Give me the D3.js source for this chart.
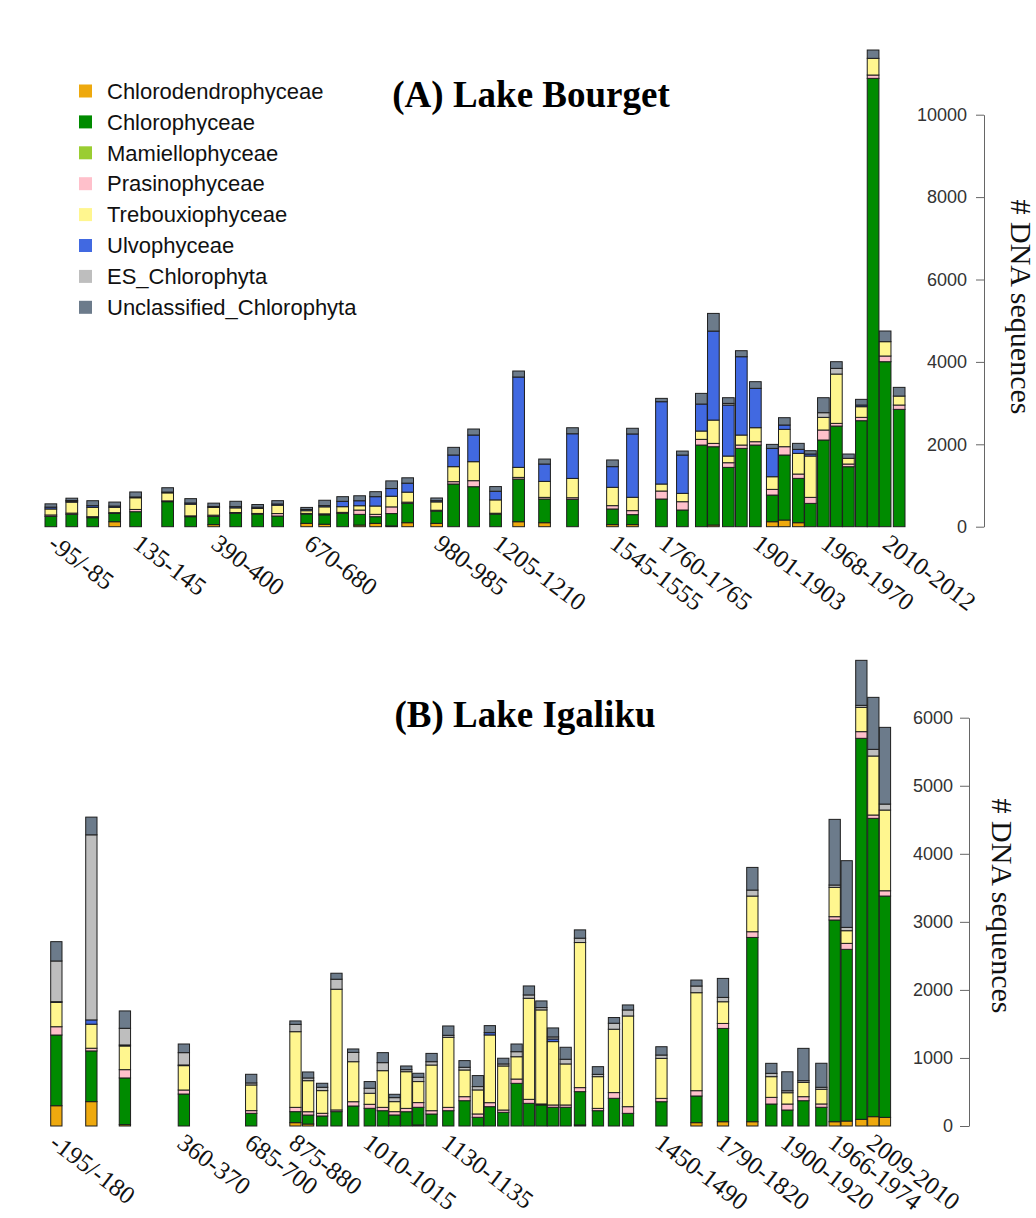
<!DOCTYPE html>
<html>
<head>
<meta charset="utf-8">
<script src="https://cdn.jsdelivr.net/npm/d3@7"></script>
<style>
    body { margin: 0; background: #ffffff; }
</style>
</head>
<body>
<svg id="chart" width="1036" height="1218"></svg>
<script>
// classes, bottom to top of each stack
var categories = ["Chlorodendrophyceae", "Chlorophyceae", "Mamiellophyceae", "Prasinophyceae",
    "Trebouxiophyceae", "Ulvophyceae", "ES_Chlorophyta", "Unclassified_Chlorophyta"];
var colors = ["#EEA90E", "#008B00", "#9ACD32", "#FFC0CB", "#FFF68F", "#4169E1", "#BEBEBE", "#6C7B8B"];

// ---- (A) Lake Bourget ----
// space before each bar, in bar widths (like R barplot "space")
var bourgetSpace = [0, 0.79, 0.79, 0.88, 0.79, 1.74, 0.97, 0.97, 0.88, 0.88, 0.71, 1.48, 0.54, 0.54, 0.45,
    0.37, 0.37, 0.37, 1.48, 0.45, 0.71, 0.88, 0.97, 1.22, 1.39, 2.42, 0.71, 1.48, 0.79, 0.62,
    0.03, 0.28, 0.11, 0.20, 0.45, 0.03, 0.20, 0.03, 0.11, 0.11, 0.03, 0.11, 0, 0.03, 0.20];
var bourgetChlorodendro = [0, 0, 0, 121, 0, 0, 0, 50, 0, 0, 0, 81, 60, 0, 40,
    81, 20, 97, 81, 0, 0, 0, 121, 97, 0, 50, 50, 0, 0, 0,
    40, 0, 0, 0, 121, 162, 97, 0, 0, 0, 0, 0, 0, 0, 0];
var bourgetChloro = [250, 300, 218, 200, 364, 607, 243, 200, 324, 307, 259, 227, 227, 323, 259,
    162, 299, 469, 299, 1036, 971, 307, 1036, 575, 663, 380, 243, 672, 405, 1982,
    1901, 1440, 1901, 1982, 647, 1578, 1076, 566, 2104, 2443, 1456, 2573, 10882, 4005, 2848];
var bourgetMamiello = [0, 0, 0, 0, 0, 0, 0, 0, 0, 0, 0, 0, 0, 0, 0,
    0, 0, 0, 0, 0, 0, 0, 0, 0, 0, 0, 0, 0, 0, 0,
    0, 0, 0, 0, 0, 0, 0, 0, 0, 0, 0, 0, 0, 0, 0];
var bourgetPrasino = [35, 30, 25, 20, 55, 20, 20, 30, 20, 15, 60, 15, 25, 25, 105,
    57, 162, 30, 20, 57, 146, 20, 40, 40, 40, 81, 97, 194, 202, 138,
    81, 113, 81, 81, 138, 202, 105, 146, 243, 65, 65, 81, 81, 138, 105];
var bourgetTrebouxio = [145, 267, 227, 130, 283, 194, 283, 186, 113, 121, 202, 65, 170, 138, 105,
    202, 259, 243, 202, 364, 461, 324, 243, 388, 469, 445, 324, 170, 202, 202,
    566, 162, 243, 340, 307, 421, 502, 1003, 307, 1197, 138, 259, 405, 348, 218];
var bourgetUlvo = [45, 25, 40, 30, 20, 20, 30, 25, 30, 30, 30, 30, 30, 130, 121,
    227, 186, 218, 30, 283, 647, 210, 2193, 421, 1084, 502, 1537, 1998, 930, 655,
    2160, 1238, 1901, 955, 688, 105, 97, 49, 0, 0, 0, 40, 0, 0, 0];
var bourgetES = [0, 15, 0, 0, 0, 0, 0, 0, 0, 0, 0, 0, 0, 0, 0,
    0, 0, 0, 0, 0, 0, 0, 0, 0, 0, 0, 0, 0, 0, 0,
    0, 40, 0, 0, 0, 0, 0, 0, 113, 138, 0, 0, 0, 0, 0];
var bourgetUnclass = [80, 55, 121, 97, 121, 105, 105, 81, 130, 65, 81, 50, 130, 113, 121,
    121, 186, 130, 65, 186, 146, 113, 146, 121, 146, 162, 138, 81, 97, 259,
    429, 138, 146, 162, 97, 178, 146, 81, 364, 162, 105, 138, 202, 259, 211];
var bourgetTickBars = [1, 5, 8, 12, 19, 22, 26, 28, 34, 39, 44];
var bourgetTickLabels = ["-95/-85", "135-145", "390-400", "670-680", "980-985", "1205-1210",
    "1545-1555", "1760-1765", "1901-1903", "1968-1970", "2010-2012"];
var bourgetYTicks = [0, 2000, 4000, 6000, 8000, 10000];

// ---- (B) Lake Igaliku ----
var igalikuSpace = [0, 2.10, 1.97, 4.22, 4.96, 2.92, 0.12, 0.24, 0.27, 0.48, 0.47, 0.15, 0.04, 0.04, 0.06,
    0.18, 0.48, 0.44, 0.18, 0.06, 0.19, 0.18, 0.09, 0.10, 0.03, 0.12, 0.27, 0.59, 0.42, 0.24,
    1.96, 2.10, 1.35, 1.60, 0.68, 0.42, 0.42, 0.59, 0.18, 0.06, 0.30, 0.06, 0.03];
var igalikuChlorodendro = [298, 358, 20, 0, 0, 49, 29, 0, 0, 0, 0, 0, 0, 0, 15,
    0, 0, 0, 0, 0, 0, 0, 0, 0, 0, 0, 15, 0, 0, 0,
    0, 49, 63, 63, 0, 0, 0, 0, 63, 73, 98, 137, 127];
var igalikuChloro = [1039, 745, 686, 470, 186, 162, 132, 147, 211, 294, 260, 225, 162, 210, 260,
    176, 225, 372, 128, 284, 201, 627, 333, 309, 275, 275, 490, 225, 407, 186,
    357, 392, 1371, 2708, 323, 235, 372, 275, 2964, 2523, 5599, 4384, 3252];
var igalikuMamiello = [0, 0, 0, 0, 0, 0, 0, 0, 0, 0, 0, 0, 0, 0, 0,
    0, 0, 0, 0, 0, 0, 0, 0, 0, 0, 0, 0, 0, 0, 0,
    0, 0, 0, 0, 0, 0, 0, 0, 0, 0, 0, 0, 0];
var igalikuPrasino = [122, 40, 122, 59, 40, 63, 49, 40, 25, 63, 59, 49, 49, 49, 69,
    49, 49, 59, 49, 59, 34, 63, 59, 15, 34, 34, 59, 34, 84, 98,
    49, 78, 73, 84, 98, 88, 59, 49, 49, 88, 98, 49, 78];
var igalikuTrebouxio = [358, 353, 348, 358, 377, 1112, 456, 333, 1774, 588, 162, 539, 147, 539, 309,
    671, 1029, 392, 353, 995, 647, 328, 1485, 1382, 931, 603, 2132, 466, 931, 1333,
    588, 1440, 319, 524, 304, 166, 210, 216, 431, 186, 357, 867, 1186];
var igalikuUlvo = [10, 63, 15, 10, 0, 0, 0, 0, 0, 0, 0, 0, 0, 0, 0,
    0, 0, 0, 0, 34, 0, 0, 0, 0, 39, 0, 0, 0, 0, 0,
    0, 0, 0, 0, 0, 0, 0, 0, 0, 0, 0, 0, 0];
var igalikuES = [598, 2720, 245, 181, 30, 108, 40, 49, 147, 137, 74, 118, 59, 30, 63,
    49, 30, 40, 49, 0, 30, 74, 49, 34, 30, 69, 64, 34, 88, 88,
    49, 98, 64, 88, 49, 29, 25, 29, 34, 49, 30, 98, 88];
var igalikuUnclass = [284, 260, 255, 127, 127, 50, 88, 59, 88, 50, 98, 147, 49, 54, 59,
    122, 137, 98, 162, 103, 84, 113, 132, 98, 132, 176, 122, 113, 84, 74,
    122, 88, 279, 333, 147, 279, 475, 353, 965, 980, 661, 764, 1127];
var igalikuTickBars = [1, 4, 5, 6, 11, 17, 31, 33, 36, 39, 42];
var igalikuTickLabels = ["-195/-180", "360-370", "685-700", "875-880", "1010-1015", "1130-1135",
    "1450-1490", "1790-1820", "1900-1920", "1966-1974", "2009-2010"];
var igalikuYTicks = [0, 1000, 2000, 3000, 4000, 5000, 6000];

var svg = d3.select("#chart");

function drawPanel(p) {
    // one row per sample, built from the series arrays
    var rows = p.space.map(function (s, i) {
        var row = {i: i};
        p.series.forEach(function (arr, k) {
            row[categories[k]] = arr[i];
        });
        return row;
    });

    // left edge of every bar in barplot units (width 1 + space before)
    var left = [], pos = 0;
    p.space.forEach(function (s) {
        pos += s;
        left.push(pos);
        pos += 1;
    });

    var x = d3.scaleLinear().domain([0, pos]).range([p.x0, p.x1]);
    var y = d3.scaleLinear().domain([0, p.yMax]).range([p.y0, p.y1]);
    var bw = x(1) - x(0);

    var stacked = d3.stack().keys(categories)(rows);

    svg.append("g")
        .selectAll("g")
        .data(stacked)
        .enter()
        .append("g")
        .attr("fill", function (d, k) { return colors[k]; })
        .selectAll("rect")
        .data(function (d) {
            return d.filter(function (v) { return v[1] > v[0]; });
        })
        .enter()
        .append("rect")
        .attr("x", function (d) { return x(left[d.data.i]); })
        .attr("width", bw)
        .attr("y", function (d) { return y(d[1]); })
        .attr("height", function (d) { return y(d[0]) - y(d[1]); })
        .attr("stroke", "#1e1e1e")
        .attr("stroke-width", 1);

    // y axis on the right side, labels inside
    var axis = svg.append("g")
        .attr("transform", "translate(" + p.axisX + ",0)")
        .call(d3.axisLeft(y).tickValues(p.yTicks).tickFormat(d3.format("d"))
            .tickSize(p.tickLen).tickSizeOuter(0).tickPadding(p.tickPad));
    axis.select(".domain").attr("stroke", "#666");
    axis.selectAll(".tick line").attr("stroke", "#666");
    axis.selectAll("text")
        .attr("fill", "#333")
        .style("font-family", "'Liberation Sans', Arial, sans-serif")
        .style("font-size", "18px");

    svg.append("text")
        .attr("transform", "translate(" + p.yTitleX + "," + p.yTitleY + ") rotate(90)")
        .attr("text-anchor", "middle")
        .attr("dy", "0.35em")
        .style("font-family", "'Liberation Serif', 'Times New Roman', serif")
        .style("font-size", "30px")
        .attr("fill", "#111")
        .text("# DNA sequences");

    // slanted sample labels under selected bars
    svg.append("g")
        .selectAll("text")
        .data(p.tickBars)
        .enter()
        .append("text")
        .attr("transform", function (b) {
            var cx = x(left[b - 1]) + bw / 2 + p.labelDx;
            return "translate(" + cx + "," + (p.y0 + 20) + ") rotate(37)";
        })
        .style("font-family", "'Liberation Serif', 'Times New Roman', serif")
        .style("font-size", "25px")
        .attr("fill", "#111")
        .text(function (b, j) { return p.tickLabels[j]; });

    svg.append("text")
        .attr("x", p.titleX)
        .attr("y", p.titleY)
        .attr("text-anchor", "middle")
        .style("font-family", "'Liberation Serif', 'Times New Roman', serif")
        .style("font-size", "37px")
        .style("font-weight", "bold")
        .attr("fill", "#000")
        .text(p.title);
}

drawPanel({
    title: "(A) Lake Bourget", titleX: 531, titleY: 107,
    space: bourgetSpace,
    series: [bourgetChlorodendro, bourgetChloro, bourgetMamiello, bourgetPrasino,
        bourgetTrebouxio, bourgetUlvo, bourgetES, bourgetUnclass],
    tickBars: bourgetTickBars, tickLabels: bourgetTickLabels, labelDx: -4,
    yTicks: bourgetYTicks, yMax: 10000,
    x0: 45, x1: 905, y0: 526.7, y1: 114.7,
    axisX: 984, tickLen: 8, tickPad: 9,
    yTitleX: 1021, yTitleY: 307
});

drawPanel({
    title: "(B) Lake Igaliku", titleX: 525, titleY: 727,
    space: igalikuSpace,
    series: [igalikuChlorodendro, igalikuChloro, igalikuMamiello, igalikuPrasino,
        igalikuTrebouxio, igalikuUlvo, igalikuES, igalikuUnclass],
    tickBars: igalikuTickBars, tickLabels: igalikuTickLabels, labelDx: -8,
    yTicks: igalikuYTicks, yMax: 6000,
    x0: 50.7, x1: 890.6, y0: 1126, y1: 717.7,
    axisX: 969, tickLen: 9, tickPad: 7,
    yTitleX: 1002, yTitleY: 906
});

// legend
var legend = svg.append("g")
    .selectAll("g")
    .data(categories)
    .enter()
    .append("g")
    .attr("transform", function (d, i) {
        return "translate(79," + (91 + i * 30.9) + ")";
    });

legend.append("rect")
    .attr("x", 0)
    .attr("y", -6.5)
    .attr("width", 13)
    .attr("height", 13)
    .attr("fill", function (d, i) { return colors[i]; });

legend.append("text")
    .attr("x", 28)
    .attr("dy", "0.35em")
    .style("font-family", "'Liberation Sans', Arial, sans-serif")
    .style("font-size", "22px")
    .attr("fill", "#111")
    .text(function (d) { return d; });
</script>
</body>
</html>
